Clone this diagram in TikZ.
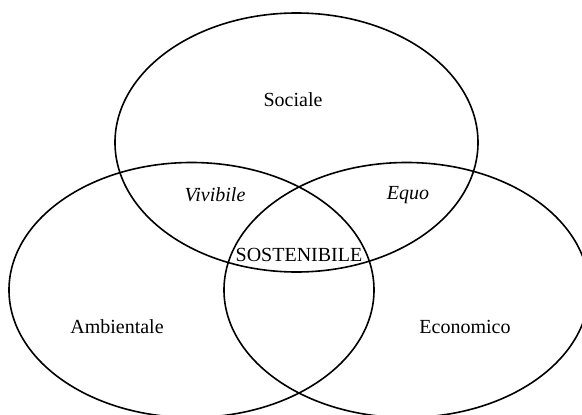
\documentclass[tikz,border=0pt]{standalone}
\usepackage{fontspec}
\setmainfont{Liberation Serif}
\begin{document}
\begin{tikzpicture}[x=1pt,y=-1pt,
  ring/.style={draw=black,line width=1.6pt},
  lab/.style={font=\fontsize{20}{24}\selectfont,inner sep=0pt},
  ilab/.style={lab,font=\fontsize{20}{24}\selectfont\itshape}]
\useasboundingbox (0,0) rectangle (582,415);
\clip (0,0) rectangle (582,415);
\draw[ring] (296.5,142.5) ellipse [x radius=181.5, y radius=129.5];
\draw[ring] (191.5,290) ellipse [x radius=182.5, y radius=127.5];
\draw[ring] (406.5,290) ellipse [x radius=182.5, y radius=127.5];
\node[lab] (soc) at (293,100) {Sociale};
\node[ilab] (viv) at (215,195) {Vivibile};
\node[ilab] (equ) at (408,195) {Equo};
\node[lab] (sos) at (299,255) {SOSTENIBILE};
\node[lab] (amb) at (117,327) {Ambientale};
\node[lab] (eco) at (465,327) {Economico};
\end{tikzpicture}
\end{document}
